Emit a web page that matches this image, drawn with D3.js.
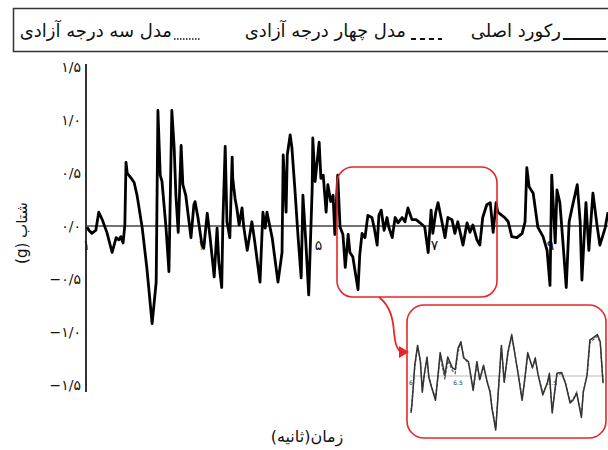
<!DOCTYPE html>
<html>
<head>
<meta charset="utf-8">
<script src="https://cdn.jsdelivr.net/npm/d3@7"></script>
<style>
  html, body { margin: 0; padding: 0; background: #fff; }
  svg { display: block; }
  text { font-family: "DejaVu Sans", "Noto Sans", sans-serif; }
</style>
</head>
<body>
<svg id="chart" width="608" height="450"></svg>
<script>
// Ground acceleration record (time in s, acceleration in g)
const recordTime = [1.02,1.05,1.10,1.17,1.22,1.28,1.36,1.45,1.52,1.57,1.60,1.64,1.67,1.69,1.71,1.78,1.83,1.88,1.97,2.05,
  2.14,2.21,2.24,2.28,2.31,2.38,2.43,2.48,2.52,2.55,2.59,2.64,2.67,2.72,2.81,2.86,2.88,2.93,3.00,3.03,
  3.09,3.14,3.21,3.26,3.29,3.34,3.36,3.40,3.43,3.48,3.52,3.53,3.57,3.60,3.64,3.69,3.72,3.78,3.86,3.91,
  4.00,4.05,4.09,4.12,4.21,4.31,4.38,4.40,4.45,4.47,4.52,4.55,4.60,4.66,4.71,4.74,4.79,4.84,4.90,4.91,
  4.95,5.02,5.05,5.09,5.14,5.17,5.22,5.26,5.29,5.34,5.38,5.43,5.47,5.52,5.55,5.60,5.69,5.72,5.76,5.81,
  5.86,5.93,5.97,6.02,6.05,6.09,6.14,6.19,6.22,6.28,6.33,6.38,6.45,6.50,6.55,6.62,6.69,6.76,6.84,6.90,
  6.95,6.98,7.03,7.07,7.14,7.19,7.24,7.31,7.36,7.41,7.50,7.57,7.62,7.67,7.74,7.79,7.84,7.91,7.97,8.02,
  8.07,8.10,8.17,8.22,8.28,8.34,8.43,8.52,8.57,8.60,8.64,8.71,8.79,8.88,8.95,9.00,9.03,9.09,9.12,9.17,
  9.22,9.28,9.33,9.38,9.47,9.52,9.55,9.62,9.67,9.74,9.81,9.86,9.95,10.0];
const recordAccel = [-0.01,-0.04,-0.07,-0.04,0.13,0.06,-0.06,-0.25,-0.11,-0.13,-0.10,-0.16,0.01,0.60,0.50,0.45,0.41,0.29,-0.02,-0.40,
  -0.92,-0.53,1.09,0.48,0.42,-0.02,-0.43,1.09,0.74,0.29,-0.06,0.76,0.39,0.29,-0.11,0.20,0.23,0.08,-0.18,-0.21,
  0.12,-0.11,-0.48,-0.02,-0.34,-0.58,0.04,0.75,0.04,-0.11,0.65,0.45,0.26,0.17,0.01,0.17,-0.01,-0.23,0.04,-0.15,
  -0.53,0.13,-0.02,0.13,-0.11,-0.53,-0.25,0.67,0.13,0.67,0.86,0.74,0.36,-0.13,-0.49,0.29,-0.15,-0.65,0.36,0.83,
  0.42,0.79,0.45,0.48,0.13,0.39,0.23,0.29,-0.08,0.48,-0.01,-0.08,-0.39,-0.08,-0.25,-0.29,-0.60,-0.27,-0.07,-0.11,
  0.10,0.08,-0.02,-0.18,0.10,0.15,-0.04,0.08,-0.01,-0.11,0.08,0.03,0.08,0.04,0.17,0.06,0.06,0.03,-0.01,-0.25,
  0.15,-0.07,0.13,0.22,0.03,-0.11,0.08,0.06,-0.07,0.04,-0.18,0.03,-0.06,0.01,-0.13,-0.18,0.08,0.20,0.22,-0.06,
  0.22,0.13,0.10,0.08,0.04,-0.10,-0.11,-0.07,0.04,0.55,0.37,0.31,-0.01,-0.10,-0.23,-0.56,0.48,-0.16,0.34,0.22,
  -0.13,-0.58,0.04,0.17,0.39,0.04,-0.51,0.22,-0.23,0.31,0.01,-0.18,-0.02,0.13];

// Close-up window of the same record, with the four-DOF model response
const zoomTime = [6.00,6.01,6.04,6.07,6.10,6.12,6.14,6.17,6.19,6.22,6.26,6.29,6.31,6.33,6.36,6.39,6.44,6.47,6.50,6.53,
  6.56,6.61,6.63,6.66,6.70,6.73,6.77,6.81,6.84,6.86,6.90,6.92,6.96,6.99,7.03,7.07,7.11,7.14,7.18,7.21,
  7.24,7.29,7.32,7.35,7.40,7.45,7.47,7.50,7.55,7.60,7.64,7.69,7.72,7.76,7.81,7.83,7.87,7.90,7.93,7.98,
  8.01,8.04];
const zoomRecord = [-0.41,-0.32,0.12,0.34,0.16,-0.18,0.01,0.21,-0.02,-0.13,-0.27,0.04,0.26,0.16,0.01,0.21,0.09,0.07,0.31,0.38,
  0.20,0.16,0.04,-0.16,0.16,-0.04,0.12,-0.07,-0.18,-0.36,-0.60,-0.29,0.34,-0.07,0.27,0.46,0.20,0.01,-0.27,-0.02,
  0.26,0.09,0.20,0.01,-0.21,-0.07,0.03,-0.41,0.03,0.04,-0.08,-0.30,-0.27,-0.19,-0.46,-0.18,0.01,0.40,0.42,0.46,
  0.38,-0.08];
const zoomModel4 = [-0.39,-0.30,0.10,0.33,0.17,-0.16,0.00,0.19,-0.01,-0.12,-0.25,0.02,0.23,0.12,-0.04,0.17,0.06,0.03,0.27,0.37,
  0.21,0.14,0.03,-0.15,0.14,-0.05,0.10,-0.06,-0.17,-0.35,-0.58,-0.28,0.32,-0.06,0.25,0.44,0.21,0.02,-0.25,-0.03,
  0.24,0.10,0.19,0.02,-0.19,-0.08,0.01,-0.39,0.01,0.03,-0.07,-0.28,-0.26,-0.18,-0.44,-0.17,0.00,0.37,0.40,0.44,
  0.37,-0.07];
const zoomTicks = [6, 6.5, 7.5];

// Axis tick values
const yTicks = [-1.5, -1.0, -0.5, 0, 0.5, 1.0, 1.5];
const xTicks = [1, 3, 5, 7, 9];

// Legend entries (right to left)
const legendLabels = ["رکورد اصلی", "مدل چهار درجه آزادی", "مدل سه درجه آزادی"];
const legendDash = [null, "5,4", "1.5,1.5"];

const faDigits = "۰۱۲۳۴۵۶۷۸۹";
const toFa = s => String(s).replace(/[0-9]/g, d => faDigits[+d]);
const fmtY = d => (d < 0 ? "−" : "") + toFa(Math.abs(d).toFixed(1)).replace(".", "/");

const svg = d3.select("#chart");

const x = d3.scaleLinear().domain([1, 10]).range([86, 608]);
const y = d3.scaleLinear().domain([-1.5, 1.5]).range([385, 67]);

// Legend frame
svg.append("rect").attr("x", 13.5).attr("y", 8.5).attr("width", 620).attr("height", 43)
  .attr("fill", "none").attr("stroke", "#333").attr("stroke-width", 1.5);

const legendTextRight = [561, 406, 172];
const legendLine = [[563, 606], [411, 442], [174, 201]];
legendLabels.forEach((lab, i) => {
  const ln = svg.append("line")
    .attr("x1", legendLine[i][0]).attr("x2", legendLine[i][1])
    .attr("y1", 39).attr("y2", 39)
    .attr("stroke", "#111").attr("stroke-width", legendDash[i] === "1.5,1.5" ? 1.3 : 2);
  if (legendDash[i]) ln.attr("stroke-dasharray", legendDash[i]);
  svg.append("text").attr("x", legendTextRight[i]).attr("y", 37)
    .attr("text-anchor", "end")
    .attr("font-size", 18).attr("fill", "#111").text(lab);
});

// Y axis
const yAxis = d3.axisLeft(y).tickValues(yTicks).tickSize(0).tickPadding(5).tickFormat(fmtY);
const gy = svg.append("g").attr("transform", "translate(86,0)").call(yAxis);
gy.select(".domain").remove();
gy.selectAll("text").attr("font-size", 14).attr("fill", "#111")
  .style("font-family", "'DejaVu Sans', sans-serif");
svg.append("line").attr("x1", 86).attr("x2", 86).attr("y1", 64).attr("y2", 392)
  .attr("stroke", "#333").attr("stroke-width", 2);

// Zero line
svg.append("line").attr("x1", 86).attr("x2", 608).attr("y1", y(0)).attr("y2", y(0))
  .attr("stroke", "#444").attr("stroke-width", 1.4);

// Time labels just below the zero line
const xAxis = d3.axisBottom(x).tickValues(xTicks).tickSize(0).tickPadding(14).tickFormat(toFa);
const gx = svg.append("g").attr("transform", `translate(0,${y(0)})`).call(xAxis);
gx.select(".domain").remove();
gx.selectAll("text").attr("font-size", 14).attr("fill", "#111");
gx.selectAll(".tick").filter(d => d === 3).select("text").attr("fill", "#888");

// Record trace
const line = d3.line().x((d, i) => x(recordTime[i])).y(d => y(d)).curve(d3.curveLinear);
svg.append("path").datum(recordAccel).attr("d", line)
  .attr("fill", "none").attr("stroke", "#000").attr("stroke-width", 2.8)
  .attr("stroke-linejoin", "round");

// Axis titles
svg.append("text").attr("transform", "translate(27,233) rotate(-90)")
  .attr("text-anchor", "middle").attr("direction", "rtl")
  .attr("font-size", 15).attr("fill", "#111").text("شتاب (g)");
svg.append("text").attr("x", 307).attr("y", 442).attr("text-anchor", "middle")
  .attr("direction", "rtl").attr("font-size", 16).attr("fill", "#111").text("زمان(ثانیه)");

// Highlight window and close-up panel
const red = "#e8262a";
svg.append("rect").attr("x", 337).attr("y", 167).attr("width", 160).attr("height", 130)
  .attr("rx", 16).attr("fill", "none").attr("stroke", red).attr("stroke-width", 1.6);
svg.append("rect").attr("x", 407).attr("y", 305).attr("width", 199).attr("height", 133)
  .attr("rx", 17).attr("fill", "#fff").attr("stroke", red).attr("stroke-width", 1.6);

svg.append("path").attr("d", "M379,297 C390,306 393,318 394,332 C395,344 397,350 401,352")
  .attr("fill", "none").attr("stroke", red).attr("stroke-width", 1.8);
svg.append("path").attr("d", "M399,346 L409,352 L399,358 Z").attr("fill", red);

const zx = d3.scaleLinear().domain([6, 8.05]).range([411, 604]);
const zy = d3.scaleLinear().domain([-0.6, 0.6]).range([430, 322]);

svg.append("line").attr("x1", 410).attr("x2", 604).attr("y1", zy(0)).attr("y2", zy(0))
  .attr("stroke", "#bbb").attr("stroke-width", 1);
svg.selectAll(".ztick").data(zoomTicks).join("text").attr("class", "ztick")
  .attr("x", d => zx(d)).attr("y", zy(0) + 9).attr("text-anchor", "middle")
  .attr("font-size", 6).attr("fill", "#333").text(d => d);

const zline = vals => d3.line().x((d, i) => zx(zoomTime[i])).y(d => zy(d))(vals);
svg.append("path").attr("d", zline(zoomModel4)).attr("fill", "none")
  .attr("stroke", "#666").attr("stroke-width", 1.3).attr("stroke-dasharray", "3,1.5");
svg.append("path").attr("d", zline(zoomRecord)).attr("fill", "none")
  .attr("stroke", "#333").attr("stroke-width", 1.5).attr("stroke-linejoin", "round");
</script>
</body>
</html>
